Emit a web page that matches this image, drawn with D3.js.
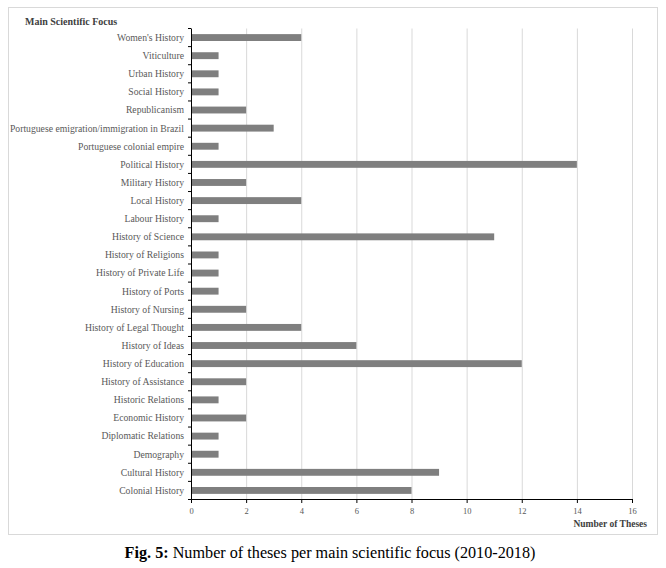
<!DOCTYPE html>
<html lang="en">
<head>
<meta charset="utf-8">
<script src="https://d3js.org/d3.v7.min.js"></script>
<style>
  body { margin: 0; background: #fff; }
  text { font-family: "Liberation Serif", "Times New Roman", serif; }
</style>
</head>
<body>
<script>
// data, top to bottom as in the figure
var focus = ["Women's History", "Viticulture", "Urban History", "Social History", "Republicanism",
  "Portuguese emigration/immigration in Brazil", "Portuguese colonial empire", "Political History",
  "Military History", "Local History", "Labour History", "History of Science", "History of Religions",
  "History of Private Life", "History of Ports", "History of Nursing", "History of Legal Thought",
  "History of Ideas", "History of Education", "History of Assistance", "Historic Relations",
  "Economic History", "Diplomatic Relations", "Demography", "Cultural History", "Colonial History"];
var theses = [4, 1, 1, 1, 2, 3, 1, 14, 2, 4, 1, 11, 1, 1, 1, 2, 4, 6, 12, 2, 1, 2, 1, 1, 9, 8];
var xTicks = [0, 2, 4, 6, 8, 10, 12, 14, 16];

var W = 666, H = 568;
var pLeft = 191, pRight = 632, pTop = 28.5, pBottom = 499.5;

var svg = d3.select("body").append("svg").attr("width", W).attr("height", H);

// chart frame
svg.append("rect").attr("x", 8.5).attr("y", 7.5).attr("width", 649).attr("height", 527)
  .attr("fill", "none").attr("stroke", "#d9d9d9");

var x = d3.scaleLinear().domain([0, 16]).range([pLeft, pRight]);
var y = d3.scaleBand().domain(focus).range([pTop, pBottom]).paddingInner(0.62).paddingOuter(0.31);

// gridlines
svg.append("g").selectAll("line").data(xTicks.slice(1)).enter().append("line")
  .attr("x1", function(d) { return x(d) + 0.5; }).attr("x2", function(d) { return x(d) + 0.5; })
  .attr("y1", pTop).attr("y2", pBottom)
  .attr("stroke", "#d9d9d9").attr("stroke-width", 1);

// bars
svg.append("g").selectAll("rect").data(focus).enter().append("rect")
  .attr("x", x(0))
  .attr("y", function(d) { return y(d); })
  .attr("width", function(d, i) { return x(theses[i]) - x(0); })
  .attr("height", y.bandwidth())
  .attr("fill", "#7f7f7f");

// y axis
var yAxis = svg.append("g");
yAxis.append("line").attr("x1", pLeft + 0.5).attr("x2", pLeft + 0.5).attr("y1", pTop).attr("y2", pBottom)
  .attr("stroke", "#000");
yAxis.selectAll("line.tk").data(d3.range(focus.length + 1)).enter().append("line").attr("class", "tk")
  .attr("x1", pLeft - 3).attr("x2", pLeft)
  .attr("y1", function(i) { return pTop + i * (pBottom - pTop) / focus.length; })
  .attr("y2", function(i) { return pTop + i * (pBottom - pTop) / focus.length; })
  .attr("stroke", "#000");
yAxis.selectAll("text").data(focus).enter().append("text")
  .attr("x", pLeft - 7)
  .attr("y", function(d) { return y(d) + y.bandwidth() / 2; })
  .attr("dy", "0.35em")
  .attr("text-anchor", "end")
  .attr("font-size", 9.7)
  .attr("fill", "#595959")
  .text(function(d) { return d; });

// x axis
var xAxis = d3.axisBottom(x).tickValues(xTicks).tickSize(4).tickPadding(5);
var gx = svg.append("g").attr("transform", "translate(0," + (pBottom - 0.5) + ")").call(xAxis);
gx.select(".domain").attr("stroke", "#000");
gx.selectAll(".tick line").attr("stroke", "#000");
gx.selectAll(".tick text").attr("font-family", "Liberation Serif, serif").attr("font-size", 8.5).attr("fill", "#595959");

// titles
svg.append("text").attr("x", 25).attr("y", 25).attr("font-size", 10).attr("font-weight", "bold")
  .attr("fill", "#404040").text("Main Scientific Focus");
svg.append("text").attr("x", 647).attr("y", 527).attr("text-anchor", "end").attr("font-size", 9.5)
  .attr("font-weight", "bold").attr("fill", "#404040").text("Number of Theses");

// caption
var cap = svg.append("text").attr("x", 330).attr("y", 558).attr("text-anchor", "middle")
  .attr("font-size", 16.2).attr("fill", "#000");
cap.append("tspan").attr("font-weight", "bold").text("Fig. 5:");
cap.append("tspan").text(" Number of theses per main scientific focus (2010-2018)");
</script>
</body>
</html>
